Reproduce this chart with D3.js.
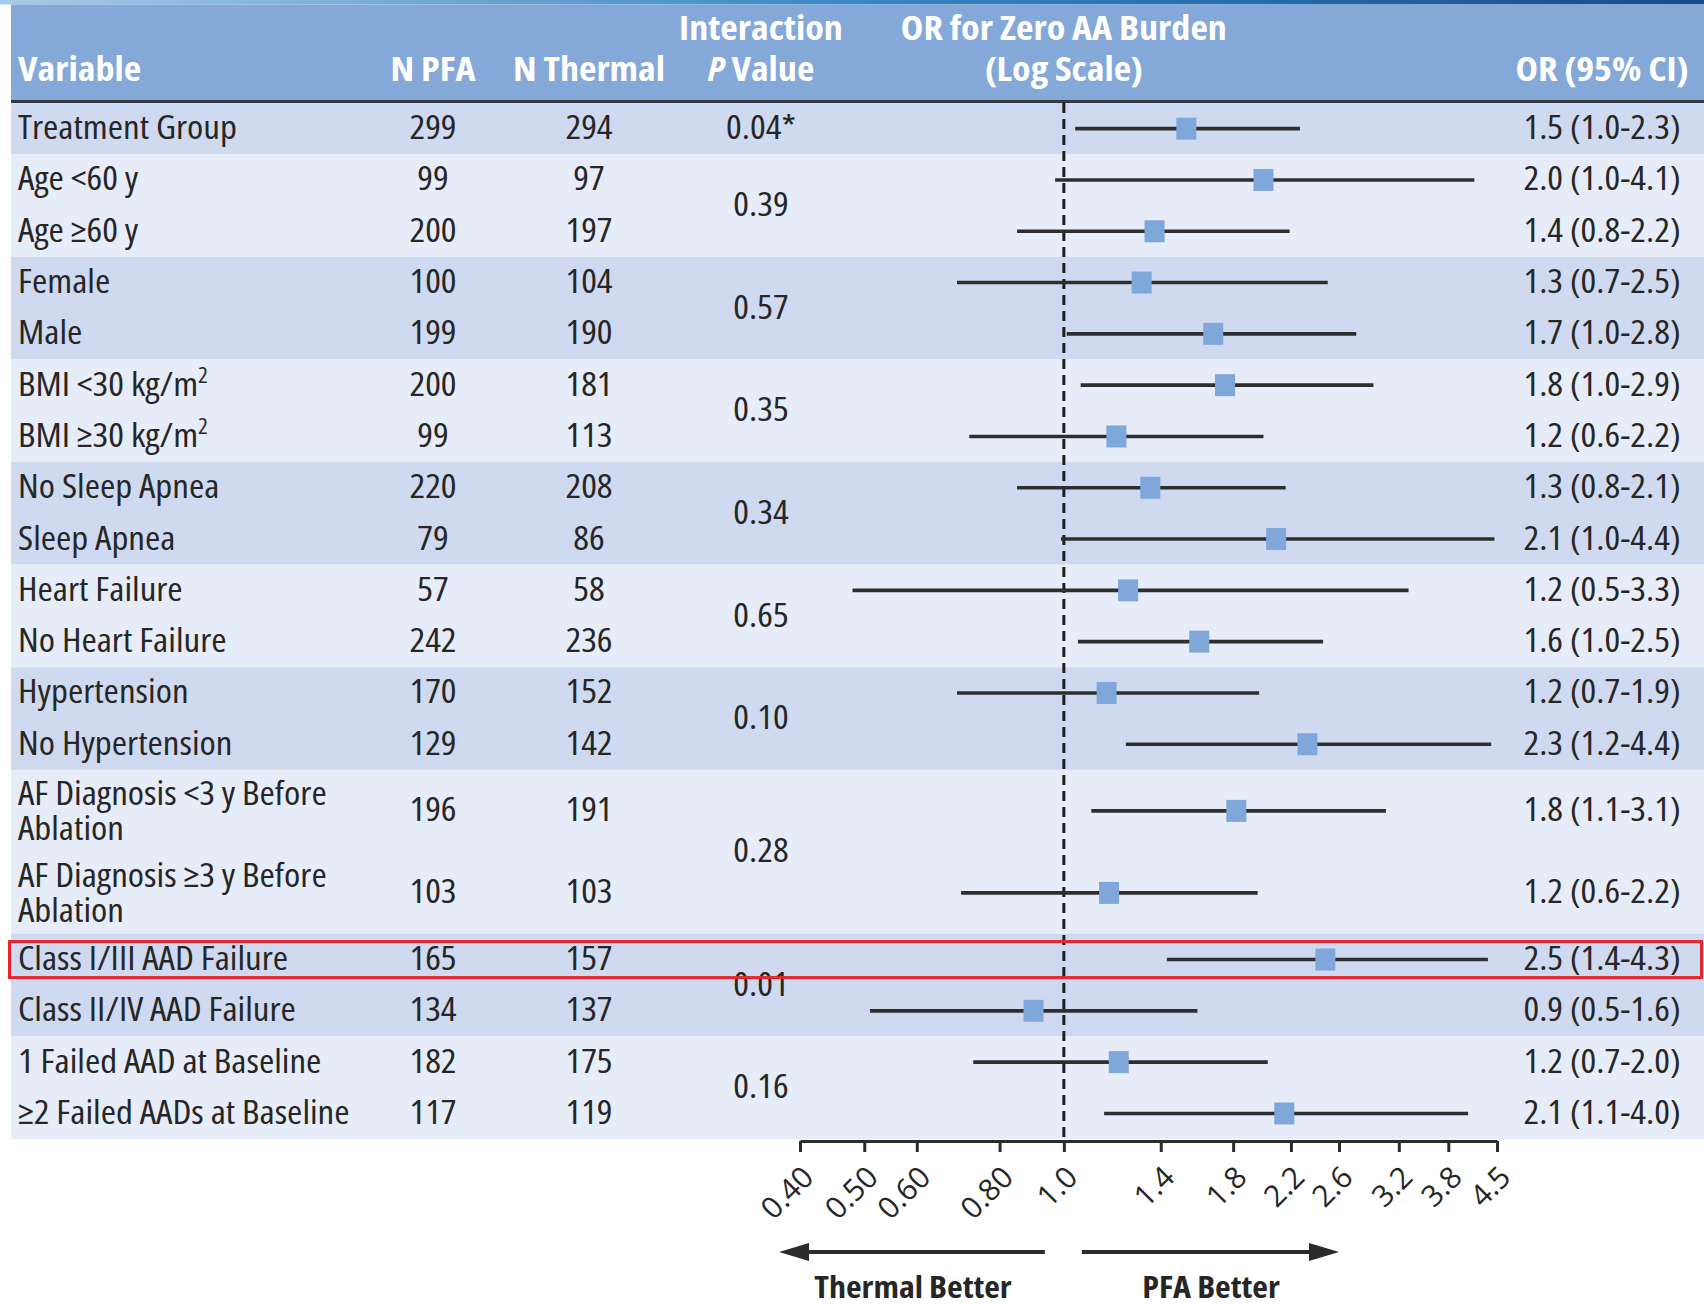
<!DOCTYPE html>
<html>
<head>
<meta charset="utf-8">
<script src="https://cdn.jsdelivr.net/npm/d3@7"></script>
<style>
  body { margin: 0; background: #fff; }
  svg { display: block; }
</style>
</head>
<body>
<svg id="chart" width="1704" height="1306"></svg>
<script>
// ---- data ----
const variables = [
  'Treatment Group', 'Age <60 y', 'Age \u226560 y', 'Female', 'Male',
  'BMI <30 kg/m^2', 'BMI \u226530 kg/m^2', 'No Sleep Apnea', 'Sleep Apnea',
  'Heart Failure', 'No Heart Failure', 'Hypertension', 'No Hypertension',
  'AF Diagnosis <3 y Before\nAblation', 'AF Diagnosis \u22653 y Before\nAblation',
  'Class I/III AAD Failure', 'Class II/IV AAD Failure',
  '1 Failed AAD at Baseline', '\u22652 Failed AADs at Baseline'
];
const groupOf = [0, 1, 1, 2, 2, 3, 3, 4, 4, 5, 5, 6, 6, 7, 7, 8, 8, 9, 9];
const nPFA = [299, 99, 200, 100, 199, 200, 99, 220, 79, 57, 242, 170, 129, 196, 103, 165, 134, 182, 117];
const nThermal = [294, 97, 197, 104, 190, 181, 113, 208, 86, 58, 236, 152, 142, 191, 103, 157, 137, 175, 119];
const pValues = ['0.04*', '0.39', '0.57', '0.35', '0.34', '0.65', '0.10', '0.28', '0.01', '0.16'];
const orLabels = [
  '1.5 (1.0-2.3)', '2.0 (1.0-4.1)', '1.4 (0.8-2.2)', '1.3 (0.7-2.5)', '1.7 (1.0-2.8)',
  '1.8 (1.0-2.9)', '1.2 (0.6-2.2)', '1.3 (0.8-2.1)', '2.1 (1.0-4.4)', '1.2 (0.5-3.3)',
  '1.6 (1.0-2.5)', '1.2 (0.7-1.9)', '2.3 (1.2-4.4)', '1.8 (1.1-3.1)', '1.2 (0.6-2.2)',
  '2.5 (1.4-4.3)', '0.9 (0.5-1.6)', '1.2 (0.7-2.0)', '2.1 (1.1-4.0)'
];
// marker and whisker positions as drawn
const orEst  = [1.53, 2.00, 1.37, 1.31, 1.68, 1.75, 1.20, 1.35, 2.09, 1.25, 1.60, 1.16, 2.33, 1.82, 1.17, 2.48, 0.90, 1.21, 2.15];
const ciLow  = [1.04, 0.97, 0.85, 0.69, 1.01, 1.06, 0.72, 0.85, 0.99, 0.48, 1.05, 0.69, 1.24, 1.10, 0.70, 1.43, 0.51, 0.73, 1.15];
const ciHigh = [2.27, 4.16, 2.19, 2.50, 2.76, 2.93, 2.00, 2.16, 4.46, 3.31, 2.46, 1.97, 4.41, 3.06, 1.96, 4.36, 1.59, 2.03, 4.07];
const tickVals = [0.4, 0.5, 0.6, 0.8, 1.0, 1.4, 1.8, 2.2, 2.6, 3.2, 3.8, 4.5];
const tickLabels = ['0.40', '0.50', '0.60', '0.80', '1.0', '1.4', '1.8', '2.2', '2.6', '3.2', '3.8', '4.5'];
const highlightRow = 15;

// ---- layout ----
const W = 1704;
const FONT = '"Open Sans", "Noto Sans", "DejaVu Sans", sans-serif';
const textColor = '#262626';
const tableLeft = 11;
const headerTop = 4.5, headerBottom = 100, rowsTop = 103;
const rowH = 51.3, tallH = 82;
const axisY = 1141;
const col = { variable: 18, pfa: 433, thermal: 589, p: 761, or: 1602 };

const svg = d3.select('#chart').attr('font-family', FONT);

// measure text so the wide font can be squeezed to the narrow look of the original
const measure = (str, size, weight) => {
  const t = svg.append('text').attr('font-size', size).attr('font-weight', weight)
    .style('font-stretch', '85%').text(str);
  const w = t.node().getComputedTextLength();
  t.remove();
  return w;
};
const bodySize = 33.5;
const bodyWeight = 500;
const sxBody = 219 / measure('Treatment Group', bodySize, bodyWeight);
const sxHead = 152 / measure('N Thermal', bodySize, 700);

const addText = (parent, x, y, o = {}) => parent.append('text')
  .attr('transform', `translate(${x},${y}) scale(${o.sx || sxBody},1)`)
  .attr('text-anchor', o.anchor || 'start')
  .attr('font-size', o.size || bodySize)
  .attr('font-weight', o.weight || bodyWeight)
  .attr('fill', o.fill || textColor)
  .style('font-stretch', '85%');

const addRich = (t, str, attrs = {}) => {
  const parts = str.split('^');
  const first = t.append('tspan').text(parts[0]);
  Object.entries(attrs).forEach(([k, v]) => first.attr(k, v));
  if (parts[1]) t.append('tspan').attr('font-size', 21).attr('dy', -13).text(parts[1]);
  return t;
};

// rows
let acc = rowsTop;
const rows = variables.map((v, i) => {
  const h = v.includes('\n') ? tallH : rowH;
  const r = { i, top: acc, h, mid: acc + h / 2, group: groupOf[i] };
  acc += h;
  return r;
});

// ---- top strip and header ----
const grad = svg.append('defs').append('linearGradient').attr('id', 'topbar');
grad.append('stop').attr('offset', '0%').attr('stop-color', '#a6cbe8');
grad.append('stop').attr('offset', '50%').attr('stop-color', '#3b87c3');
grad.append('stop').attr('offset', '100%').attr('stop-color', '#134c8a');
svg.append('rect').attr('width', W).attr('height', headerTop).attr('fill', 'url(#topbar)');

svg.append('rect').attr('x', tableLeft).attr('y', headerTop)
  .attr('width', W - tableLeft).attr('height', headerBottom - headerTop).attr('fill', '#84a8d8');

// ---- group bands ----
const groups = d3.groups(rows, r => r.group);
svg.append('g').selectAll('rect').data(groups).join('rect')
  .attr('x', tableLeft)
  .attr('y', d => d[1][0].top)
  .attr('width', W - tableLeft)
  .attr('height', d => d3.sum(d[1], r => r.h))
  .attr('fill', d => d[0] % 2 === 0 ? '#cfdaf0' : '#e6ecf8');

svg.append('rect').attr('x', tableLeft).attr('y', headerBottom)
  .attr('width', W - tableLeft).attr('height', 3).attr('fill', '#343a42');

// ---- x scale ----
const x = d3.scaleLog().domain([0.4, 4.5]).range([800, 1497]);

// header text
const head = svg.append('g');
const hOpt = (anchor) => ({ anchor, weight: 700, fill: '#ffffff', sx: sxHead });
addText(head, col.variable, 81, hOpt('start')).text('Variable');
addText(head, col.pfa, 81, hOpt('middle')).text('N PFA');
addText(head, col.thermal, 81, hOpt('middle')).text('N Thermal');
const inter = addText(head, col.p, 40, hOpt('middle'));
inter.append('tspan').attr('x', 0).text('Interaction');
inter.append('tspan').attr('x', 0).attr('dy', 41).attr('font-style', 'italic').text('P');
inter.append('tspan').text(' Value');
const orHead = addText(head, x(1), 40, hOpt('middle'));
orHead.append('tspan').attr('x', 0).text('OR for Zero AA Burden');
orHead.append('tspan').attr('x', 0).attr('dy', 41).text('(Log Scale)');
addText(head, col.or, 81, hOpt('middle')).text('OR (95% CI)');

// ---- table body text ----
const body = svg.append('g');
rows.forEach(r => {
  const lines = variables[r.i].split('\n');
  if (lines.length === 1) {
    addRich(addText(body, col.variable, r.mid + 10.5), lines[0]);
  } else {
    const t = addText(body, col.variable, r.mid - 5.5);
    addRich(t, lines[0], { x: 0 });
    addRich(t, lines[1], { x: 0, dy: 34.5 });
  }
  addText(body, col.pfa, r.mid + 10.5, { anchor: 'middle' }).text(nPFA[r.i]);
  addText(body, col.thermal, r.mid + 10.5, { anchor: 'middle' }).text(nThermal[r.i]);
  addText(body, col.or, r.mid + 10.5, { anchor: 'middle' }).text(orLabels[r.i]);
});
groups.forEach(([g, rs]) => {
  const mid = d3.mean(rs, r => r.mid);
  addText(body, col.p, mid + 10.5, { anchor: 'middle' }).text(pValues[g]);
});

// ---- reference line at OR = 1 ----
svg.append('line')
  .attr('x1', x(1)).attr('x2', x(1))
  .attr('y1', rowsTop).attr('y2', axisY)
  .attr('stroke', '#1f1f1f').attr('stroke-width', 3)
  .attr('stroke-dasharray', '10,6');

// ---- whiskers and markers ----
const marks = svg.append('g');
marks.selectAll('line').data(rows).join('line')
  .attr('x1', d => x(ciLow[d.i])).attr('x2', d => x(ciHigh[d.i]))
  .attr('y1', d => d.mid).attr('y2', d => d.mid)
  .attr('stroke', '#2e2e2e').attr('stroke-width', 3.6);
marks.selectAll('rect').data(rows).join('rect')
  .attr('x', d => x(orEst[d.i]) - 10).attr('y', d => d.mid - 11)
  .attr('width', 20).attr('height', 22)
  .attr('fill', '#7fa7da');

// ---- highlight box ----
const hr = rows[highlightRow];
svg.append('rect')
  .attr('x', 9.5).attr('y', hr.mid - 18)
  .attr('width', W - 12).attr('height', 36)
  .attr('fill', 'none').attr('stroke', '#e8262e').attr('stroke-width', 3);

// ---- axis ----
const axis = d3.axisBottom(x)
  .tickValues(tickVals)
  .tickFormat((d, i) => tickLabels[i])
  .tickSize(11)
  .tickSizeOuter(0);
const ax = svg.append('g')
  .attr('transform', `translate(0,${axisY})`)
  .call(axis)
  .attr('font-family', FONT)
  .attr('font-size', 30)
  .attr('font-weight', 500);
ax.select('.domain').attr('stroke', '#2b2b2b').attr('stroke-width', 3);
ax.selectAll('.tick line').attr('stroke', '#2b2b2b').attr('stroke-width', 3);
ax.selectAll('.tick text')
  .attr('y', 0).attr('dy', 0)
  .attr('transform', 'translate(15,38) rotate(-45)')
  .attr('text-anchor', 'end')
  .attr('fill', textColor);

// ---- direction arrows ----
const arrowY = 1252;
const arrows = svg.append('g').attr('fill', '#2b2b2b').attr('stroke', '#2b2b2b');
const drawArrow = (from, to) => {
  const dir = Math.sign(to - from);
  arrows.append('line')
    .attr('x1', from).attr('x2', to - dir * 20)
    .attr('y1', arrowY).attr('y2', arrowY)
    .attr('stroke-width', 4);
  arrows.append('path')
    .attr('stroke', 'none')
    .attr('d', `M${to},${arrowY} L${to - dir * 30},${arrowY - 9} L${to - dir * 30},${arrowY + 9} Z`);
};
drawArrow(x(1) - 19, x(0.4) - 21);
drawArrow(x(1) + 18, x(2.6));

addText(svg, 913, 1298, { anchor: 'middle', weight: 700, sx: sxHead, size: 30 }).text('Thermal Better');
addText(svg, 1211, 1298, { anchor: 'middle', weight: 700, sx: sxHead, size: 30 }).text('PFA Better');
</script>
</body>
</html>
